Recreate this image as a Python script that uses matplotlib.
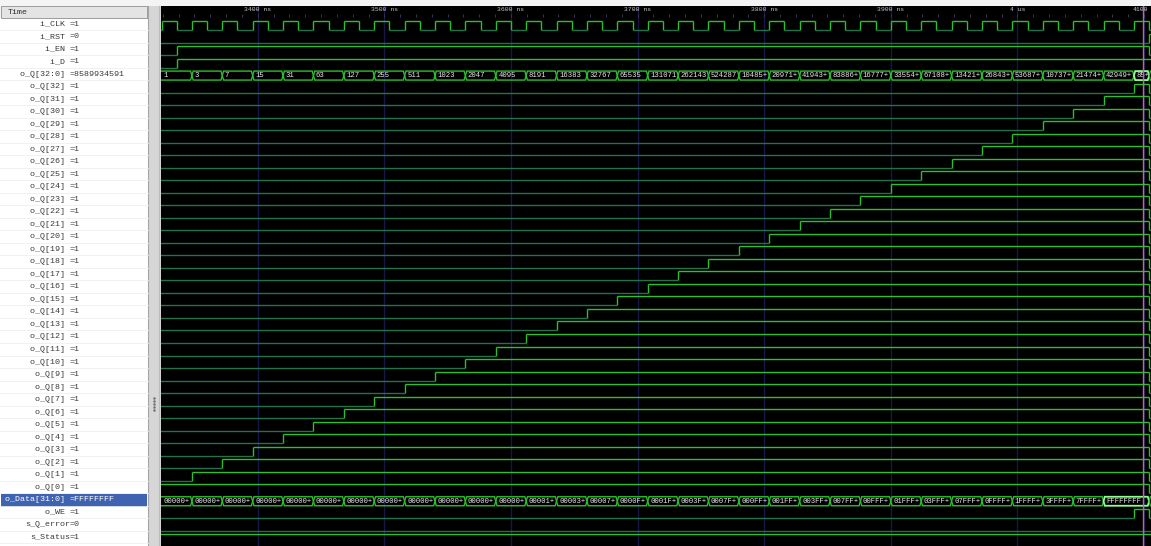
import matplotlib.pyplot as plt
from matplotlib.collections import LineCollection
from matplotlib.patches import Rectangle, Polygon

# signal pane: names and the values at the marker
bit_names = [f"o_Q[{b}] " for b in range(32, -1, -1)]
names = ["i_CLK ", "i_RST ", "i_EN ", "i_D ", "o_Q[32:0] "] + bit_names + \
        ["o_Data[31:0] ", "o_WE ", "s_Q_error", "s_Status"]
values = ["=1", "=0", "=1", "=1", "=8589934591"] + ["=1"] * 33 + \
         ["=FFFFFFFF", "=1", "=0", "=1"]

# clock edges (ns)
clk_rise = [3324, 3348, 3372, 3396, 3420, 3444, 3468, 3492, 3516, 3540, 3564,
            3588, 3612, 3636, 3660, 3684, 3708, 3732, 3756, 3780, 3804, 3828,
            3852, 3876, 3900, 3924, 3948, 3972, 3996, 4020, 4044, 4068, 4092]
clk_fall = [3336, 3360, 3384, 3408, 3432, 3456, 3480, 3504, 3528, 3552, 3576,
            3600, 3624, 3648, 3672, 3696, 3720, 3744, 3768, 3792, 3816, 3840,
            3864, 3888, 3912, 3936, 3960, 3984, 4008, 4032, 4056, 4080, 4104]

# counter output o_Q and the times it changes
q_times = [3300, 3348, 3372, 3396, 3420, 3444, 3468, 3492, 3516, 3540, 3564,
           3588, 3612, 3636, 3660, 3684, 3708, 3732, 3756, 3780, 3804, 3828,
           3852, 3876, 3900, 3924, 3948, 3972, 3996, 4020, 4044, 4068, 4092]
q_values = [1, 3, 7, 15, 31, 63, 127, 255, 511, 1023, 2047, 4095, 8191, 16383,
            32767, 65535, 131071, 262143, 524287, 1048575, 2097151, 4194303,
            8388607, 16777215, 33554431, 67108863, 134217727, 268435455,
            536870911, 1073741823, 2147483647, 4294967295, 8589934591]

en_time = 3336
we_time = 4092
reset_time = 4104
marker_time = 4099

ruler_ticks = [3400, 3500, 3600, 3700, 3800, 3900, 4000, 4100]
ruler_labels = ["3400 ns", "3500 ns", "3600 ns", "3700 ns", "3800 ns",
                "3900 ns", "4 us", "4100"]

# ---------------------------------------------------------------------------
W, H = 1151, 546
PANE_X, TOP = 161, 6
ROW0, PITCH, AMP = 30.0, 12.52, 9.0
t_lo, t_hi = 3323.6, 4105.5
t_pre = 3200

HI = "#2cc02c"
LO = "#22734c"
BUS = "#2cc02c"
SEL = "#8cff8c"
MONO = "Liberation Mono"


def y_lo(r):
    return ROW0 + PITCH * r


def y_hi(r):
    return y_lo(r) - AMP


fig = plt.figure(figsize=(W / 100, H / 100), dpi=100)

# window background, name pane, splitter
bg = fig.add_axes([0, 0, 1, 1])
bg.set_xlim(0, W)
bg.set_ylim(H, 0)
bg.axis("off")
bg.add_patch(Rectangle((0, 0), W, H, fc="#f4f4f4", ec="none"))
bg.add_patch(Rectangle((0, 18), 148, H - 18, fc="white", ec="none"))
bg.add_patch(Rectangle((0.5, TOP), 147, 12, fc="#e4e4e4", ec="#9c9c9c", lw=0.7))
bg.text(8, 12.5, "Time", fontsize=6, family=MONO, color="#303030", va="center")
bg.add_patch(Rectangle((148, TOP), PANE_X - 148, H - TOP, fc="#d6d6d6", ec="none"))
bg.plot([148, 148], [TOP, H], color="#a4a4a4", lw=0.8)
bg.plot([159.5, 159.5], [TOP, H], color="#bcbcbc", lw=0.8)
bg.scatter([154.5] * 5, [398, 401, 404, 407, 410], s=0.6, color="#707070")

for r in range(len(names)):
    bg.plot([0, 148], [y_lo(r), y_lo(r)], color="#efefef", lw=0.6)

sel_row = names.index("o_Data[31:0] ")
bg.add_patch(Rectangle((1, y_lo(sel_row - 1) + 0.6), 146, PITCH + 0.6,
                       fc="#3f63b0", ec="none"))

for r, (n, v) in enumerate(zip(names, values)):
    c = "white" if r == sel_row else "#3a3a3a"
    yc = y_lo(r) - 6
    bg.text(70, yc, n, fontsize=6, family=MONO, color=c, ha="right", va="center")
    bg.text(70, yc, v, fontsize=6, family=MONO, color=c, ha="left", va="center")

# waveform pane
ax = fig.add_axes([PANE_X / W, 0, (W - PANE_X) / W, (H - TOP) / H])
ax.set_facecolor("black")
ax.set_xlim(t_lo, t_hi)
ax.set_ylim(H, TOP)
ax.set_xticks([])
ax.set_yticks([])
for s in ax.spines.values():
    s.set_visible(False)

px_per_ns = (W - PANE_X) / (t_hi - t_lo)

# time ruler and grid
for t, lab in zip(ruler_ticks, ruler_labels):
    ax.plot([t, t], [TOP, H], color="#181848", lw=1.0, zorder=1)
    if t + 20 < t_hi:
        ax.text(t, 9.5, lab, fontsize=4.6, family=MONO, color="#c4c4c4",
                ha="center", va="center", clip_on=True)
    else:
        # last label sits against the right edge of the pane
        ax.text(t_hi - 3 / px_per_ns, 9.5, lab, fontsize=4.6, family=MONO,
                color="#c4c4c4", ha="right", va="center")
minor = [ruler_ticks[0] - 100 + 12.5 * k for k in range(8 * 9)]
ax.add_collection(LineCollection([[(t, 13.5), (t, 16.5)] for t in minor],
                                 colors="#34345e", lw=0.7, zorder=1))


def bit_wave(row, changes):
    hi, lo, edges = [], [], []
    for i, (t, v) in enumerate(changes):
        t2 = changes[i + 1][0] if i + 1 < len(changes) else t_hi + 50
        if v:
            hi.append([(t, y_hi(row)), (t2, y_hi(row))])
        else:
            lo.append([(t, y_lo(row)), (t2, y_lo(row))])
        if i > 0 and changes[i - 1][1] != v:
            edges.append([(t, y_lo(row)), (t, y_hi(row))])
    ax.add_collection(LineCollection(hi + edges, colors=HI, lw=1.0, zorder=3))
    ax.add_collection(LineCollection(lo, colors=LO, lw=1.0, zorder=3))


def bus_wave(row, changes, selected=None):
    bev = 1.3 / px_per_ns
    top, bot = y_hi(row), y_lo(row)
    mid = (top + bot) / 2
    for i, (t, lab) in enumerate(changes):
        t2 = changes[i + 1][0] if i + 1 < len(changes) else t_hi + 50
        sel = selected is not None and t <= selected < t2
        poly = Polygon([(t, mid), (t + bev, top), (t2 - bev, top), (t2, mid),
                        (t2 - bev, bot), (t + bev, bot)], closed=True,
                       fill=False, ec=SEL if sel else BUS,
                       lw=1.3 if sel else 1.0, zorder=3)
        ax.add_patch(poly)
        lo_vis, hi_vis = max(t, t_lo), min(t2, t_hi)
        width_px = (hi_vis - lo_vis) * px_per_ns
        n_chars = int((width_px - 2) / 4.3)
        if n_chars < 2:
            continue
        txt = lab if len(lab) <= n_chars else lab[:n_chars - 1] + "+"
        ax.text(lo_vis + 2.5 / px_per_ns, mid + 0.3, txt, fontsize=5.2,
                family=MONO, color="#e6e6e6", ha="left", va="center",
                zorder=4, clip_on=True)


# i_CLK
clk = [(t_pre, 0)] + sorted([(t, 1) for t in clk_rise] + [(t, 0) for t in clk_fall])
bit_wave(0, clk)
# i_RST, i_EN, i_D
bit_wave(1, [(t_pre, 0), (reset_time, 1)])
bit_wave(2, [(t_pre, 0), (en_time, 1), (reset_time, 0)])
bit_wave(3, [(t_pre, 0), (en_time, 1)])

# o_Q[32:0] bus
q_changes = list(zip(q_times, q_values)) + [(reset_time, 0)]
bus_wave(4, [(t, str(v)) for t, v in q_changes], selected=marker_time)

# individual bits, o_Q[32] down to o_Q[0]
for k, b in enumerate(range(32, -1, -1)):
    ch = []
    for t, v in q_changes:
        bit = (v >> b) & 1
        if not ch or ch[-1][1] != bit:
            ch.append((t, bit))
    bit_wave(5 + k, ch)

# o_Data[31:0]
data = []
for t, v in q_changes:
    h = format(v & 0xFFFFFFFF, "08X")
    if not data or data[-1][1] != h:
        data.append((t, h))
bus_wave(sel_row, data, selected=marker_time)

# o_WE, s_Q_error, s_Status
bit_wave(sel_row + 1, [(t_pre, 0), (we_time, 1), (reset_time, 0)])
bit_wave(sel_row + 2, [(t_pre, 0)])
bit_wave(sel_row + 3, [(t_pre, 1)])

# marker
ax.plot([marker_time, marker_time], [TOP, H], color="#c06890", lw=1.0, zorder=5)

fig.savefig("out.png", dpi=100)
